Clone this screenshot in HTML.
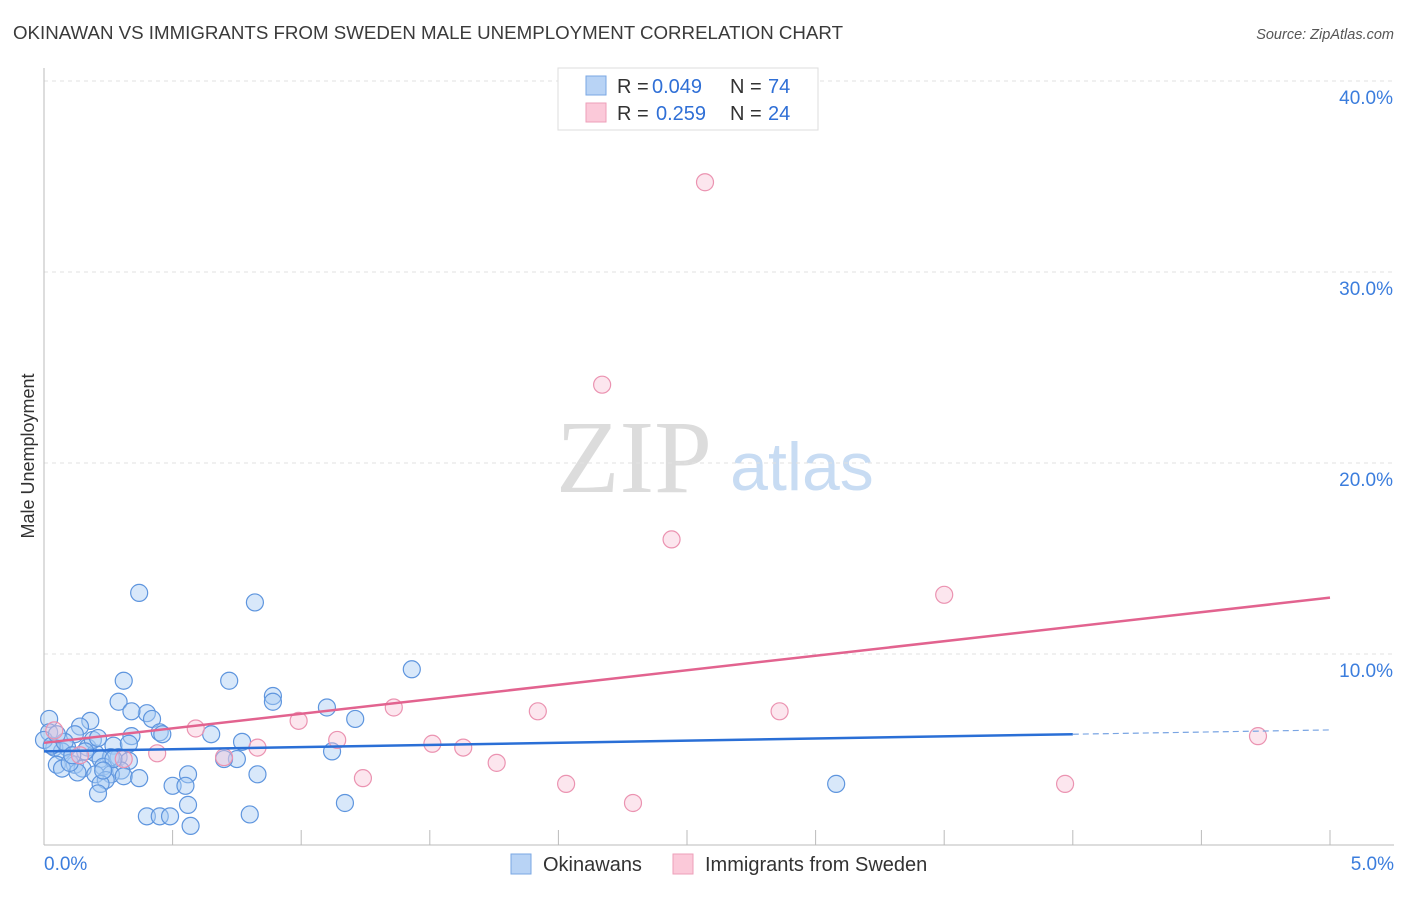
<!DOCTYPE html>
<html><head><meta charset="utf-8"><style>
body{margin:0;background:#fff;font-family:"Liberation Sans",sans-serif;}
svg text{font-family:"Liberation Sans",sans-serif;}
</style></head><body>
<svg id="chart" width="1406" height="892" viewBox="0 0 1406 892" xmlns="http://www.w3.org/2000/svg">
<text x="13" y="39" font-size="18.5" fill="#3a3a3a" textLength="830" lengthAdjust="spacingAndGlyphs">OKINAWAN VS IMMIGRANTS FROM SWEDEN MALE UNEMPLOYMENT CORRELATION CHART</text>
<text x="1394" y="39" font-size="14.5" fill="#555" text-anchor="end" font-style="italic">Source: ZipAtlas.com</text>
<text x="634" y="492" font-size="104" fill="#dcdcdc" text-anchor="middle" style="font-family:'Liberation Serif',serif">ZIP</text>
<text x="802" y="490" font-size="68" fill="#c8dcf3" text-anchor="middle">atlas</text>
<text transform="translate(34,456) rotate(-90)" font-size="18" fill="#333" text-anchor="middle">Male Unemployment</text>
<g id="grid"></g><g id="axes"></g><g id="marks"></g>
<g>
<rect x="558" y="68" width="260" height="62" fill="#fff" stroke="#ddd"/>
<rect x="586" y="76" width="20" height="19" fill="#b8d3f5" stroke="#7aa7e3"/>
<rect x="586" y="103" width="20" height="19" fill="#fbc9d9" stroke="#ee9fb9"/>
<text x="617" y="93" font-size="20" fill="#333">R = </text>
<text x="652" y="93" font-size="20" fill="#2f6fd6">0.049</text>
<text x="730" y="93" font-size="20" fill="#333">N = </text>
<text x="768" y="93" font-size="20" fill="#2f6fd6">74</text>
<text x="617" y="120" font-size="20" fill="#333">R = </text>
<text x="656" y="120" font-size="20" fill="#2f6fd6">0.259</text>
<text x="730" y="120" font-size="20" fill="#333">N = </text>
<text x="768" y="120" font-size="20" fill="#2f6fd6">24</text>
</g>
<g>
<rect x="511" y="854" width="20" height="20" fill="#b8d3f5" stroke="#7aa7e3"/>
<text x="543" y="871" font-size="20" fill="#333">Okinawans</text>
<rect x="673" y="854" width="20" height="20" fill="#fbc9d9" stroke="#ee9fb9"/>
<text x="705" y="871" font-size="20" fill="#333">Immigrants from Sweden</text>
</g>
</svg>
<script>
const blueX=[0.37,0.82,0.31,0.72,1.43,0.89,0.89,0.29,1.10,0.40,0.42,0.34,1.21,0.18,0.02,0.14,0.12,0.45,0.46,0.65,0.34,0.02,0.77,0.27,0.33,0.09,0.04,0.17,0.07,0.20,0.29,0.26,0.22,0.75,0.70,1.12,0.05,0.12,0.23,0.15,0.07,0.33,0.30,0.26,0.20,0.13,0.56,0.83,0.31,0.37,0.24,0.22,0.50,0.55,0.21,3.08,0.56,1.17,0.40,0.45,0.49,0.80,0.57,0.10,0.00,0.03,0.08,0.19,0.16,0.11,0.27,0.05,0.21,0.23];
const blueY=[13.2,12.7,8.6,8.6,9.2,7.8,7.5,7.5,7.2,6.9,6.6,7.0,6.6,6.5,6.6,6.2,5.8,5.9,5.8,5.8,5.7,5.9,5.4,5.2,5.3,5.1,5.1,5.1,4.9,4.8,4.6,4.6,4.5,4.5,4.5,4.9,4.2,4.2,4.1,4.0,4.0,4.4,3.9,3.7,3.7,3.8,3.7,3.7,3.6,3.5,3.4,3.2,3.1,3.1,2.7,3.2,2.1,2.2,1.5,1.5,1.5,1.6,1.0,4.3,5.5,5.2,5.4,5.5,4.9,4.7,4.5,5.8,5.6,3.9];
const pinkX=[2.57,2.17,2.44,3.50,3.97,4.72,2.86,1.92,1.36,0.99,1.14,0.59,0.83,0.44,0.31,0.70,1.51,1.63,1.76,1.24,2.03,2.29,0.04,0.14];
const pinkY=[34.7,24.1,16.0,13.1,3.2,5.7,7.0,7.0,7.2,6.5,5.5,6.1,5.1,4.8,4.5,4.6,5.3,5.1,4.3,3.5,3.2,2.2,6.0,4.7];
const blueTrend=[4.9,0.225];
const pinkTrend=[5.35,1.52];
const yTicks=[10,20,30,40];
const yTickLabels=["10.0%","20.0%","30.0%","40.0%"];
const xTicks=[0.5,1,1.5,2,2.5,3,3.5,4,4.5,5];
const xLabels=["0.0%","5.0%"];
const NS="http://www.w3.org/2000/svg";
const X=v=>44+v/5*1286, Y=v=>845-v*19.1;
function mk(p,t,a){const e=document.createElementNS(NS,t);for(const k in a)e.setAttribute(k,a[k]);p.appendChild(e);return e;}
const grid=document.getElementById('grid'),axes=document.getElementById('axes'),marks=document.getElementById('marks');
yTicks.forEach((t,i)=>{
 const l=mk(grid,'line',{x1:44,x2:1394,y1:Y(t),y2:Y(t),stroke:'#e2e2e2','stroke-dasharray':'4,4'});
 
 
 const tx=mk(axes,'text',{x:1393,y:Y(t)+23,'font-size':19,fill:'#3b7ddd','text-anchor':'end'});
 tx.textContent=yTickLabels[i];
 
 
});
const ax=mk(axes,'line',{x1:44,x2:44,y1:68,y2:845,stroke:'#bbb'});


const bx=mk(axes,'line',{x1:44,x2:1394,y1:845,y2:845,stroke:'#bbb'});


xTicks.forEach(t=>{const l=mk(axes,'line',{x1:X(t),x2:X(t),y1:830,y2:845,stroke:'#bbb'});
 
 });
[[0,'start',44],[5,'end',1394]].forEach((d,i)=>{const tx=mk(axes,'text',{x:d[2],y:870,'font-size':19,fill:'#3b7ddd','text-anchor':d[1]});tx.textContent=xLabels[i];
 
 });
blueX.forEach((x,i)=>{const c=mk(marks,'circle',{cx:X(x),cy:Y(blueY[i]),r:8.5,fill:'rgba(168,204,245,0.45)',stroke:'#5e95de','stroke-width':1.2});
 
 });
pinkX.forEach((x,i)=>{const c=mk(marks,'circle',{cx:X(x),cy:Y(pinkY[i]),r:8.5,fill:'rgba(248,192,212,0.4)',stroke:'#eb93b1','stroke-width':1.2});
 
 });
const bt=mk(marks,'line',{x1:X(0),y1:Y(blueTrend[0]),x2:X(4),y2:Y(blueTrend[0]+4*blueTrend[1]),stroke:'#2a6fd6','stroke-width':2.5});


const bd=mk(marks,'line',{x1:X(4),y1:Y(blueTrend[0]+4*blueTrend[1]),x2:X(5),y2:Y(blueTrend[0]+5*blueTrend[1]),stroke:'#7aa5e3','stroke-width':1.2,'stroke-dasharray':'6,4'});


const pt=mk(marks,'line',{x1:X(0),y1:Y(pinkTrend[0]),x2:X(5),y2:Y(pinkTrend[0]+5*pinkTrend[1]),stroke:'#e2638f','stroke-width':2.5});


</script>
</body></html>
